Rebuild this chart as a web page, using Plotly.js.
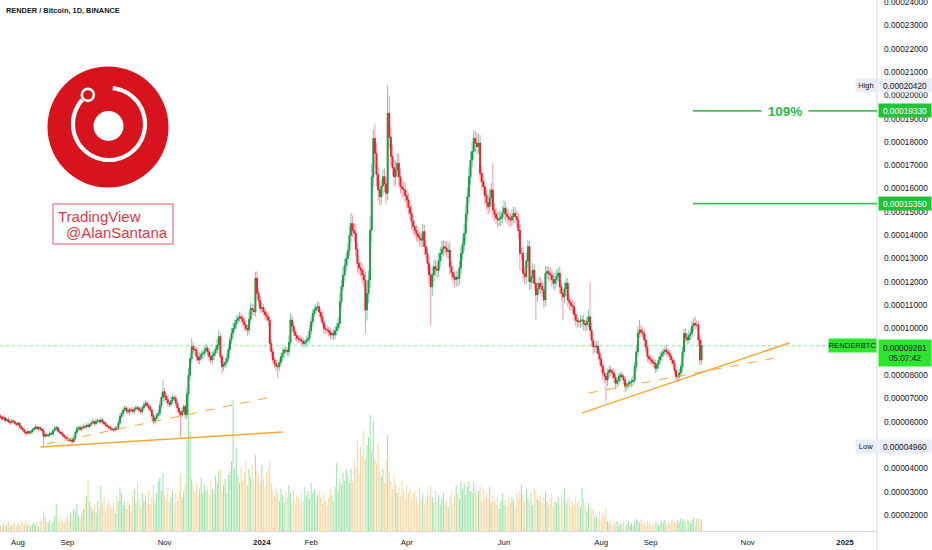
<!DOCTYPE html>
<html><head><meta charset="utf-8">
<script src="https://cdn.plot.ly/plotly-3.0.1.min.js"></script>
<style>html,body{margin:0;padding:0;background:#fff;}#chart{width:932px;height:550px;}</style>
</head><body><div id="chart"></div>
<script>
// ---------- DATA (prices in units of 0.00001 BTC) ----------
const startDate = '2023-07-21';
const priceUnit = 1e-5;
const firstOpen = 6.25;
const closes = [6.20,6.12,6.18,6.05,6.10,6.00,5.96,6.04,6.00,5.92,
5.88,5.94,5.80,5.72,5.65,5.55,5.50,5.58,5.52,5.57,
5.66,5.72,5.78,5.70,5.75,5.68,5.62,5.38,5.45,5.40,
5.43,5.50,5.48,5.62,5.70,5.75,5.60,5.55,5.50,5.42,
5.35,5.30,5.25,5.20,5.22,5.15,5.30,5.55,5.70,5.75,
5.68,5.74,5.80,5.78,5.85,5.80,5.88,5.95,6.00,5.92,
6.02,6.05,6.00,6.08,5.98,5.92,5.85,5.80,5.75,5.70,
5.66,5.65,5.72,5.70,5.95,6.22,6.35,6.50,6.59,6.48,
6.42,6.52,6.50,6.45,6.55,6.60,6.59,6.50,6.43,6.60,
6.72,6.80,6.70,6.62,6.50,6.25,6.00,6.15,6.28,6.36,
6.70,7.05,7.29,7.10,6.95,6.80,6.75,6.90,7.05,7.00,
6.80,6.59,6.40,6.29,6.45,6.65,6.30,7.20,8.00,8.70,
9.22,9.10,9.08,8.80,8.65,8.75,8.90,8.95,9.05,9.16,
9.00,8.80,8.65,8.85,8.95,9.10,9.29,9.65,8.79,8.36,
8.45,8.55,8.72,9.10,9.51,9.80,10.00,10.20,10.35,10.44,
10.50,10.44,10.30,10.15,10.00,9.93,10.40,10.86,10.80,10.72,
12.15,11.51,11.20,10.86,10.90,10.72,10.60,10.50,10.36,9.36,
9.00,8.65,8.50,8.40,8.36,8.55,8.79,8.95,9.08,9.05,
9.00,9.40,10.36,10.10,9.86,9.70,9.58,9.55,9.51,9.45,
9.36,9.42,9.50,9.58,9.90,10.29,10.65,10.80,10.90,10.93,
10.70,10.50,10.25,10.00,9.95,9.93,9.85,9.72,9.80,9.72,
9.90,10.05,10.22,11.15,11.80,12.29,12.70,13.00,13.36,14.00,
14.50,14.20,14.08,13.40,12.79,12.60,12.50,12.30,12.08,10.79,
11.50,12.08,14.22,16.50,18.15,17.51,16.60,15.94,15.65,16.10,
16.51,16.20,15.80,19.23,18.20,17.37,16.90,16.51,16.80,17.08,
16.50,16.08,16.00,15.94,15.70,15.51,15.20,14.94,14.60,14.36,
14.20,14.05,13.94,13.85,13.79,14.15,13.51,13.20,12.79,12.30,
11.79,12.30,12.65,12.55,12.50,12.90,13.22,13.40,13.50,13.45,
13.30,13.36,12.65,12.40,12.22,12.10,12.20,12.15,12.60,13.22,
13.60,14.08,14.90,15.65,16.51,17.22,17.60,18.15,17.95,17.80,
17.95,16.65,16.30,16.08,15.70,15.40,15.22,15.60,15.94,15.08,
14.90,14.75,14.65,14.70,14.79,14.95,15.15,14.90,14.79,14.70,
14.65,14.80,14.94,14.80,14.65,14.20,13.22,13.22,12.37,12.22,
12.90,13.51,12.00,12.20,12.50,11.94,11.44,11.70,11.94,11.80,
11.65,11.22,12.37,12.44,12.35,12.29,12.10,11.94,12.10,12.25,
12.37,11.79,11.50,11.36,11.70,11.94,11.22,11.10,11.00,10.93,
10.60,10.36,10.30,10.29,10.35,10.36,10.20,10.15,10.30,10.50,
9.93,9.50,9.22,9.22,9.25,8.93,8.70,8.40,8.08,7.95,
7.79,8.10,8.22,8.15,8.08,7.90,7.65,7.75,7.93,8.00,
7.93,7.80,7.50,7.60,7.65,7.70,7.72,7.79,8.36,9.00,
9.79,9.93,9.85,9.79,9.51,9.20,8.79,8.70,8.65,8.55,
8.51,8.29,8.45,8.65,8.80,8.93,9.00,9.08,9.00,8.93,
8.80,8.65,8.51,8.20,7.93,7.93,8.10,8.36,9.00,9.79,
9.60,9.51,9.70,9.79,10.10,10.22,10.15,10.15,9.51,8.65,9.26];
// wick lengths in units of 0.0000001 BTC
const upperWick = [8,6,10,5,7,9,6,8,5,7,
6,9,5,8,7,10,6,12,5,8,
9,7,10,6,8,5,7,12,9,6,
8,10,6,9,12,7,5,8,6,9,
7,5,8,6,10,7,12,9,11,8,
10,7,12,8,9,11,7,10,14,8,
9,12,7,10,8,6,9,7,8,10,
6,8,10,12,15,14,10,12,9,8,
12,10,8,14,9,11,8,10,12,9,
14,12,10,8,9,7,10,12,8,15,
18,20,50,15,12,14,10,16,12,9,
12,10,14,9,16,12,10,25,30,22,
35,20,18,14,16,22,15,12,18,20,
14,12,16,18,12,20,25,30,15,12,
14,18,20,24,16,22,25,18,20,15,
22,18,14,20,16,18,30,24,20,26,
29,30,20,18,22,15,18,14,20,16,
18,14,12,16,10,14,18,20,12,15,
16,30,28,20,18,14,16,12,18,14,
16,12,18,20,25,22,20,18,16,22,
18,14,20,12,16,18,14,20,12,18,
22,18,25,40,30,35,28,25,30,40,
45,35,30,40,28,32,24,30,28,40,
50,40,60,55,40,60,45,35,40,30,
30,35,30,121,77,45,50,35,40,45,
40,35,30,28,32,25,30,28,35,30,
28,25,30,22,26,35,30,28,25,30,
40,35,28,32,30,36,28,35,30,25,
30,28,35,26,30,24,28,25,32,30,
35,40,45,38,42,35,40,36,30,45,
40,35,30,38,32,30,35,40,30,116,
30,28,25,32,28,30,35,26,30,28,
25,30,28,26,24,30,28,25,30,28,
35,30,25,28,30,26,24,28,30,25,
26,28,30,25,22,28,24,26,30,28,
25,28,22,26,30,24,22,26,20,24,
22,20,25,18,22,20,24,18,22,30,
150,30,25,22,20,24,18,20,16,18,
15,18,20,16,14,18,15,12,16,14,
14,12,16,10,14,12,15,18,20,25,
30,45,25,20,18,22,16,14,18,15,
14,16,12,15,18,14,16,20,15,14,
16,14,12,15,14,12,16,18,25,20,
22,18,25,20,24,22,30,20,18,22,25];
const lowerWick = [6,8,5,9,7,6,10,5,8,6,
8,6,10,7,9,6,12,5,8,7,
6,9,5,8,10,7,9,45,8,6,
7,9,6,8,5,10,7,9,6,8,
9,6,10,8,7,12,6,9,8,10,
7,10,6,9,8,7,11,8,6,9,
8,6,10,7,9,12,8,6,10,8,
7,10,8,9,6,8,10,12,8,14,
9,12,8,10,14,9,11,10,12,8,
10,9,12,14,10,18,12,9,10,14,
12,15,18,20,14,16,12,10,15,12,
14,16,18,93,12,14,20,18,22,25,
20,18,25,20,16,18,14,22,16,18,
20,22,18,16,20,14,18,22,25,30,
20,16,18,14,22,18,20,16,22,18,
16,20,18,22,16,24,18,20,22,18,
20,22,25,18,20,16,22,18,20,30,
25,20,18,22,48,20,16,18,22,14,
18,20,16,22,18,20,16,18,14,20,
16,18,20,14,18,16,20,14,18,16,
20,18,16,22,18,14,20,16,18,22,
18,20,16,22,25,20,28,24,30,26,
30,28,35,30,40,32,28,35,30,99,
45,40,35,50,45,60,50,45,40,35,
40,35,45,30,50,40,35,45,38,30,
35,30,40,28,32,36,30,28,35,30,
28,30,25,32,28,30,35,28,30,40,
164,40,30,28,35,30,25,28,32,30,
28,32,35,30,28,34,30,35,28,25,
30,28,35,32,30,36,28,32,40,35,
30,38,35,32,36,30,34,28,32,35,
30,28,32,26,30,28,25,30,28,32,
28,25,30,28,32,35,72,30,35,32,
30,28,35,32,28,30,108,30,28,32,
30,35,28,26,30,28,32,26,30,28,
26,30,28,100,26,30,28,32,26,30,
28,26,30,24,28,26,30,28,24,26,
28,30,32,25,28,30,26,28,32,30,
93,25,22,20,24,22,25,20,18,22,
20,18,22,20,18,16,20,18,15,20,
18,20,22,18,25,20,22,18,20,16,
18,20,16,18,15,18,16,14,18,16,
15,18,16,20,18,16,15,18,20,22,
18,20,16,18,22,20,18,16,25,22,20];
const volumes = [6,4,8,5,7,10,6,5,9,7,
5,8,6,12,9,7,10,6,8,5,
7,9,6,8,5,10,12,20,14,9,
8,11,7,9,15,27,12,9,14,10,
8,12,16,10,18,14,22,20,27,15,
12,18,22,28,35,52,30,24,20,26,
18,30,22,45,28,34,20,26,32,24,
22,28,18,36,30,44,38,26,30,22,
30,26,20,35,42,28,48,32,24,38,
30,36,28,40,26,34,46,30,38,50,
53,40,58,36,30,44,28,34,40,26,
38,30,42,56,34,40,48,90,150,100,
52,44,40,48,36,42,53,38,46,40,
44,36,50,42,38,55,48,60,62,40,
46,52,38,56,60,70,131,62,83,55,
48,64,50,58,70,46,62,54,66,50,
76,60,56,48,66,52,44,58,62,70,
48,40,35,44,38,30,42,36,28,40,
34,46,38,30,42,28,36,32,26,38,
30,44,36,40,32,48,38,42,30,36,
40,34,28,38,30,26,34,42,36,30,
44,68,40,52,46,58,50,62,56,48,
62,50,70,64,90,58,84,76,100,72,
86,94,116,80,110,72,68,88,60,54,
62,48,70,96,58,50,42,56,46,38,
44,36,50,40,32,46,38,42,30,36,
40,34,28,44,30,38,26,32,40,36,
45,34,28,40,30,36,26,32,38,28,
30,24,34,40,28,36,46,38,32,50,
42,48,36,44,50,40,38,49,44,36,
40,46,30,42,34,38,32,44,28,36,
30,26,34,22,30,38,26,32,24,36,
28,34,30,24,38,32,40,46,36,30,
42,34,28,38,26,44,40,32,30,36,
28,34,40,30,26,32,38,24,30,28,
34,26,38,30,43,28,32,36,24,30,
26,34,28,30,24,43,32,26,20,28,
24,18,22,14,16,12,20,12,18,14,
23,10,8,12,6,9,7,10,5,8,
6,9,5,7,10,6,8,5,9,12,
10,8,12,7,9,6,10,8,5,7,
6,9,8,5,7,10,8,11,6,9,
7,10,12,9,8,11,9,13,10,12,
9,12,10,8,11,13,9,12,13,10,12];
const tickDates = ['2023-08-01','2023-09-01','2023-11-01','2024-01-01','2024-02-01','2024-04-01','2024-06-01','2024-08-01','2024-09-01','2024-11-01','2025-01-01'];
const tickLabels = ['Aug','Sep','Nov','<b>2024</b>','Feb','Apr','Jun','Aug','Sep','Nov','<b>2025</b>'];
// price-scale tick levels shown (0.00009000 is hidden under the last-price tag)
const priceTicks = [2,3,4,5,6,7,8,10,11,12,13,14,15,16,17,18,19,20,21,22,23,24];
const highValue = 20.42, lowValue = 4.96, lastPrice = 9.261, countdown = '05:07:42';
const targetStart = '2024-09-27 14:00';
const targets = [19.33, 15.35];
const targetPct = '109%';
const trendSolid1 = {x:['2023-08-15','2024-01-14'], y:[4.92,5.56]};
const trendDash1  = {x:['2023-08-19','2024-01-07'], y:[5.05,7.06]};
const trendSolid2 = {x:['2024-07-20','2024-11-27'], y:[6.38,9.38]};
const trendDash2  = {x:['2024-07-24','2024-11-18'], y:[7.23,8.73]};
const xRange = ['2023-07-20 17:00','2025-01-21 02:00'];
const yRange = [1.316, 24.086];

// ---------- BUILD ----------
const n = Math.min(closes.length, upperWick.length, lowerWick.length, volumes.length);
const dates = [], O = [], H = [], L = [], C = [], BH = [], BL = [], volColors = [];
const base = new Date(startDate + 'T00:00:00Z');
for (let i = 0; i < n; i++) {
  const d = new Date(base.getTime() + i * 86400000);
  dates.push(d.toISOString().slice(0, 10));
  const o = i === 0 ? firstOpen : closes[i - 1];
  const c = closes[i];
  O.push(o * priceUnit); C.push(c * priceUnit);
  H.push((Math.max(o, c) + upperWick[i] / 100) * priceUnit);
  L.push((Math.min(o, c) - lowerWick[i] / 100) * priceUnit);
  BH.push(Math.max(o, c) * priceUnit); BL.push(Math.min(o, c) * priceUnit);
  volColors.push(c >= o ? '#9ae2a8' : '#f9d6a0');
}

const volTrace = {type:'bar', x:dates, y:volumes.slice(0,n), yaxis:'y', xaxis:'x',
  marker:{color:volColors, line:{width:0}}, width:0.62*86400000, hoverinfo:'skip'};
const wickTrace = {type:'candlestick', x:dates, open:O, high:H, low:L, close:C, yaxis:'y2', xaxis:'x',
  increasing:{line:{color:'#7cc9ae', width:1}, fillcolor:'#7cc9ae'},
  decreasing:{line:{color:'#f49aa2', width:1}, fillcolor:'#f49aa2'}, whiskerwidth:0, hoverinfo:'skip'};
const bodyTrace = {type:'candlestick', x:dates, open:O, high:BH, low:BL, close:C, yaxis:'y2', xaxis:'x',
  increasing:{line:{color:'#1f9a40', width:1}, fillcolor:'#1f9a40'},
  decreasing:{line:{color:'#e8202e', width:1}, fillcolor:'#e8202e'}, whiskerwidth:0, hoverinfo:'skip'};

const PW = 877, PH = 531;
function pxs(o){ return Object.assign({xref:'paper', xanchor:0, xsizemode:'pixel', yref:'paper', yanchor:1, ysizemode:'pixel', layer:'above'}, o); }
function circ(cx, cy, r, fill, line, lw){ return pxs({type:'circle', x0:cx-r, x1:cx+r, y0:-(cy+r), y1:-(cy-r), fillcolor:fill, line:{color:line||fill, width:lw||0}}); }
const logoRed = '#d7141e';
const ringC = {x:109, y:124}, ringR = 36;
let ringPath = '';
for (let a = -84; a <= 223; a += 3) {
  const t = a * Math.PI / 180;
  const px = ringC.x + ringR * Math.cos(t), py = ringC.y + ringR * Math.sin(t);
  ringPath += (ringPath ? 'L' : 'M') + px.toFixed(2) + ',' + (-py).toFixed(2);
}
const smallAng = 234 * Math.PI / 180;
const sc = {x: ringC.x + ringR * Math.cos(smallAng), y: ringC.y + ringR * Math.sin(smallAng)};

const P = v => v * priceUnit;
const shapes = [
  {type:'line', xref:'paper', x0:0, x1:1, yref:'y2', y0:P(lastPrice), y1:P(lastPrice), line:{color:'#8fe39a', width:1, dash:'dot'}, layer:'below'},
  {type:'line', xref:'paper', x0:1, x1:1, yref:'paper', y0:-19/PH, y1:1, line:{color:'#d6d9e0', width:1}, layer:'above'},
  {type:'line', xref:'x', yref:'y2', x0:trendSolid1.x[0], x1:trendSolid1.x[1], y0:P(trendSolid1.y[0]), y1:P(trendSolid1.y[1]), line:{color:'#f5a83a', width:1.5}, layer:'above'},
  {type:'line', xref:'x', yref:'y2', x0:trendDash1.x[0], x1:trendDash1.x[1], y0:P(trendDash1.y[0]), y1:P(trendDash1.y[1]), line:{color:'#f5a83a', width:1, dash:'dash'}, layer:'above'},
  {type:'line', xref:'x', yref:'y2', x0:trendSolid2.x[0], x1:trendSolid2.x[1], y0:P(trendSolid2.y[0]), y1:P(trendSolid2.y[1]), line:{color:'#f5a83a', width:1.5}, layer:'above'},
  {type:'line', xref:'x', yref:'y2', x0:trendDash2.x[0], x1:trendDash2.x[1], y0:P(trendDash2.y[0]), y1:P(trendDash2.y[1]), line:{color:'#f5a83a', width:1, dash:'dash'}, layer:'above'},
  // logo
  circ(108, 127, 60.5, logoRed),
  pxs({type:'path', path:ringPath, line:{color:'#ffffff', width:4.2}, fillcolor:'rgba(0,0,0,0)'}),
  circ(sc.x, sc.y, 6, logoRed, '#ffffff', 2.6),
  circ(108.5, 126, 15, '#ffffff'),
  // signature box
  pxs({type:'rect', x0:53, x1:173, y0:-244, y1:-204, line:{color:'#e25866', width:1}, fillcolor:'rgba(255,255,255,0)'})
];
targets.forEach(t => shapes.push({type:'line', xref:'x', yref:'y2', x0:targetStart, x1:xRange[1], y0:P(t), y1:P(t), line:{color:'#43c05e', width:1.8}, layer:'above'}));

const valFont = {family:'Liberation Sans, Arial, sans-serif', size:8.3, color:'#131722'};
function valBox(v, text, bg, col, extra){
  return Object.assign({xref:'paper', x:1, xanchor:'left', xshift:1, yref:'y2', y:P(v), yanchor:'middle', text:text, showarrow:false,
    bgcolor:bg, width:52, height:13, borderpad:0, font:Object.assign({}, valFont, {color:col})}, extra||{});
}
function tagBox(v, text, bg, col, w){
  return {xref:'paper', x:1, xanchor:'right', yref:'y2', y:P(v), yanchor:'middle', text:text, showarrow:false,
    bgcolor:bg, width:w, height:13, borderpad:0, font:Object.assign({}, valFont, {size:7.6, color:col})};
}
const annotations = [
  {xref:'paper', x:4/PW, xanchor:'left', yref:'paper', y:1-11/PH, yanchor:'middle', showarrow:false,
   text:'<b>RENDER / Bitcoin, 1D, BINANCE</b>', font:{family:'Liberation Sans, Arial, sans-serif', size:7.4, color:'#131722'}},
  {xref:'paper', x:56/PW, xanchor:'left', yref:'paper', y:1-216.5/PH, yanchor:'middle', showarrow:false,
   text:'TradingView', font:{family:'Liberation Sans, Arial, sans-serif', size:15, color:'#e23645'}},
  {xref:'paper', x:170/PW, xanchor:'right', yref:'paper', y:1-232.5/PH, yanchor:'middle', showarrow:false,
   text:'@AlanSantana', font:{family:'Liberation Sans, Arial, sans-serif', size:15, color:'#e23645'}},
  {xref:'x', x:'2024-11-24 10:00', yref:'y2', y:P(targets[0]), showarrow:false, text:'<b>'+targetPct+'</b>',
   bgcolor:'#ffffff', width:46, height:16, borderpad:0, font:{family:'Liberation Sans, Arial, sans-serif', size:13.5, color:'#2eb84c'}},
  valBox(highValue, P(highValue).toFixed(8), '#e9edf6', '#131722'),
  tagBox(highValue, 'High', '#e9edf6', '#131722', 20),
  valBox(lowValue, P(lowValue).toFixed(8), '#e9edf6', '#131722'),
  tagBox(lowValue, 'Low', '#e9edf6', '#131722', 20),
  valBox(targets[0], P(targets[0]).toFixed(8), '#22c23a', '#ffffff'),
  valBox(targets[1], P(targets[1]).toFixed(8), '#22c23a', '#ffffff'),
  valBox(lastPrice, P(lastPrice).toFixed(8)+'<br>'+countdown, '#2ee52e', '#131722', {yanchor:'top', yshift:7, height:26}),
  tagBox(lastPrice, 'RENDERBTC', '#2ee52e', '#131722', 47)
];

const layout = {
  width:932, height:550, margin:{l:0, r:932-PW, t:0, b:550-PH, pad:0},
  paper_bgcolor:'#ffffff', plot_bgcolor:'#ffffff', showlegend:false, dragmode:false,
  font:{family:'Liberation Sans, Arial, sans-serif', color:'#131722', size:8},
  xaxis:{type:'date', range:xRange, tickvals:tickDates, ticktext:tickLabels, tickmode:'array',
    showgrid:false, zeroline:false, showline:true, linecolor:'#d6d9e0', linewidth:1, ticks:'',
    tickfont:{size:7.8, color:'#131722'}, rangeslider:{visible:false}, fixedrange:true, ticklabelstandoff:4},
  yaxis:{range:[0, PH], visible:false, fixedrange:true},
  yaxis2:{overlaying:'y', side:'right', anchor:'x', range:[yRange[0]*priceUnit, yRange[1]*priceUnit],
    tickmode:'array', tickvals:priceTicks.map(P), ticktext:priceTicks.map(v => P(v).toFixed(8)),
    showgrid:false, zeroline:false, showline:false, ticklabeloverflow:'allow',
    ticks:'', ticklabelstandoff:6, tickfont:{size:8.3, color:'#131722'}, fixedrange:true},
  shapes:shapes, annotations:annotations
};
Plotly.newPlot('chart', [volTrace, wickTrace, bodyTrace], layout, {staticPlot:true, displayModeBar:false});
</script></body></html>
